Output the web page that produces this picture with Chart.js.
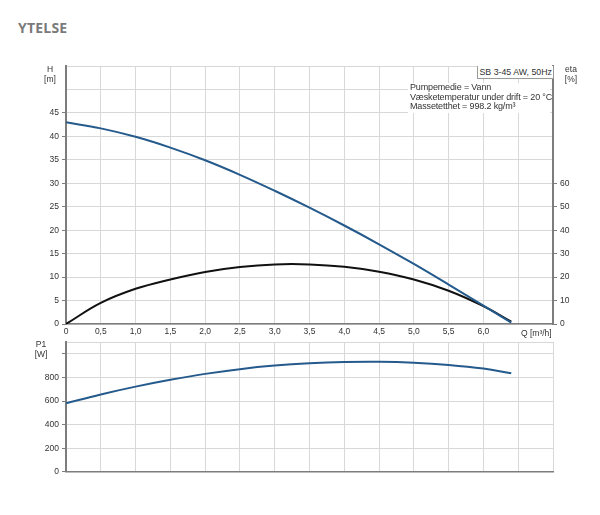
<!DOCTYPE html>
<html>
<head>
<meta charset="utf-8">
<script src="https://cdn.jsdelivr.net/npm/chart.js@4.4.1/dist/chart.umd.min.js"></script>
<style>
  html, body { margin: 0; padding: 0; background: #fff; width: 600px; height: 515px; overflow: hidden; }
  body { position: relative; font-family: "Liberation Sans", Arial, sans-serif; color: #333; }
  .abs { position: absolute; white-space: nowrap; }
  #title { left: 18px; top: 18px; font-family: "Open Sans", "DejaVu Sans", sans-serif; font-weight: bold; font-size: 14px; color: #7a7a7a; letter-spacing: 0.2px; }
  .ax { font-size: 8.5px; line-height: 10px; text-align: center; color: #333; }
  #c1wrap { left: 0; top: 0; width: 600px; height: 350px; }
  #c2wrap { left: 0; top: 330px; width: 600px; height: 150px; }
  #pumpbox { left: 477px; top: 66px; height: 12px; width: 74px; border: 1px solid #999; border-top: none; background: #fff; font-size: 8.8px; line-height: 12px; text-align: right; padding-right: 1px; }
  #info { left: 408px; top: 83px; width: 140px; background: #fff; font-size: 9px; letter-spacing: -0.15px; line-height: 9.6px; padding-left: 2px; padding-bottom: 1px; }
</style>
</head>
<body>
<div id="title" class="abs">YTELSE</div>
<div id="c1wrap" class="abs"><canvas id="c1" width="600" height="350"></canvas></div>
<div id="c2wrap" class="abs"><canvas id="c2" width="600" height="150"></canvas></div>
<div class="abs ax" style="left:40px; top:64px; width:20px;">H<br>[m]</div>
<div class="abs ax" style="left:561px; top:64px; width:20px;">eta<br>[%]</div>
<div class="abs ax" style="left:31px; top:339px; width:20px;">P1<br>[W]</div>
<div class="abs ax" style="left:521px; top:328px; text-align:left;">Q [m³/h]</div>
<div id="pumpbox" class="abs">SB 3-45 AW, 50Hz</div>
<div id="info" class="abs">Pumpemedie = Vann<br>Væsketemperatur under drift = 20 °C<br>Massetetthet = 998.2 kg/m³</div>
<script>
// ---- data ----
const flowQ = [0, 0.5, 1.0, 1.5, 2.0, 2.5, 3.0, 3.5, 4.0, 4.5, 5.0, 5.5, 6.0, 6.4];
const headH = [43.0, 41.7, 39.9, 37.6, 34.9, 31.8, 28.4, 24.8, 21.0, 17.0, 12.8, 8.4, 3.9, 0.3];
const effEta = [0, 9.0, 15.0, 19.0, 22.2, 24.3, 25.4, 25.4, 24.4, 22.3, 19.0, 14.2, 7.6, 1.0];
const powerP1 = [582, 656, 722, 780, 830, 870, 900, 920, 931, 933, 925, 906, 875, 835];
const xTickLabels = ["0","0,5","1,0","1,5","2,0","2,5","3,0","3,5","4,0","4,5","5,0","5,5","6,0"];

const pts = (ys) => flowQ.map((q, i) => ({ x: q, y: ys[i] }));

const GRID = '#d8d8d8';
const AXIS = '#7d7d7d';
const TXT = '#333';
const FONT = { family: '"Liberation Sans", Arial, sans-serif', size: 8.5 };
const BLUE = '#255a8c';

const common = {
  responsive: false,
  animation: false,
  events: [],
  plugins: { legend: { display: false }, tooltip: { enabled: false } },
  elements: { point: { radius: 0 }, line: { tension: 0.4 } }
};

const tickCol = (limit) => (ctx) => (ctx.tick && ctx.tick.value > limit) ? 'rgba(0,0,0,0)' : AXIS;

new Chart(document.getElementById('c1'), {
  type: 'line',
  data: {
    datasets: [
      { data: pts(headH), borderColor: BLUE, borderWidth: 2, yAxisID: 'y' },
      { data: pts(effEta), borderColor: '#111', borderWidth: 2, yAxisID: 'y2' }
    ]
  },
  options: Object.assign({}, common, {
    layout: { padding: { top: 66, left: 0, right: 0, bottom: 0 } },
    scales: {
      x: {
        type: 'linear', min: 0, max: 7,
        ticks: { stepSize: 0.5, color: TXT, font: FONT, padding: 3, maxRotation: 0, autoSkip: false,
          callback: (v) => { const i = Math.round(v * 2); return i < xTickLabels.length ? xTickLabels[i] : ''; } },
        grid: { color: GRID, drawTicks: false },
        border: { color: AXIS, width: 1.5 },
        afterFit: (s) => { s.height = 26; }
      },
      y: {
        position: 'left', min: 0, max: 55,
        ticks: { stepSize: 5, color: TXT, font: FONT, padding: 3, callback: (v) => v <= 45 ? v : '' },
        grid: { color: GRID, tickColor: tickCol(45), tickLength: 4 },
        border: { color: AXIS, width: 2 },
        afterFit: (s) => { s.width = 66; }
      },
      y2: {
        position: 'right', min: 0, max: 110,
        ticks: { stepSize: 10, color: TXT, font: FONT, padding: 3, callback: (v) => v <= 60 ? v : '' },
        grid: { drawOnChartArea: false, tickColor: tickCol(60), tickLength: 4 },
        border: { color: AXIS, width: 2 },
        afterFit: (s) => { s.width = 47; }
      }
    }
  })
});

new Chart(document.getElementById('c2'), {
  type: 'line',
  data: {
    datasets: [
      { data: pts(powerP1), borderColor: BLUE, borderWidth: 2 }
    ]
  },
  options: Object.assign({}, common, {
    layout: { padding: { top: 12, left: 0, right: 47, bottom: 0 } },
    scales: {
      x: {
        type: 'linear', min: 0, max: 7,
        ticks: { display: false, stepSize: 0.5 },
        grid: { color: GRID, drawTicks: false },
        border: { color: AXIS, width: 1.5 },
        afterFit: (s) => { s.height = 7; }
      },
      y: {
        position: 'left', min: 0, max: 1100,
        ticks: { stepSize: 200, color: TXT, font: FONT, padding: 3, callback: (v) => v <= 800 ? v : '' },
        grid: { color: GRID, tickColor: tickCol(1000), tickLength: 4 },
        border: { color: AXIS, width: 2 },
        afterFit: (s) => { s.width = 66; }
      }
    }
  })
});
</script>
</body>
</html>
